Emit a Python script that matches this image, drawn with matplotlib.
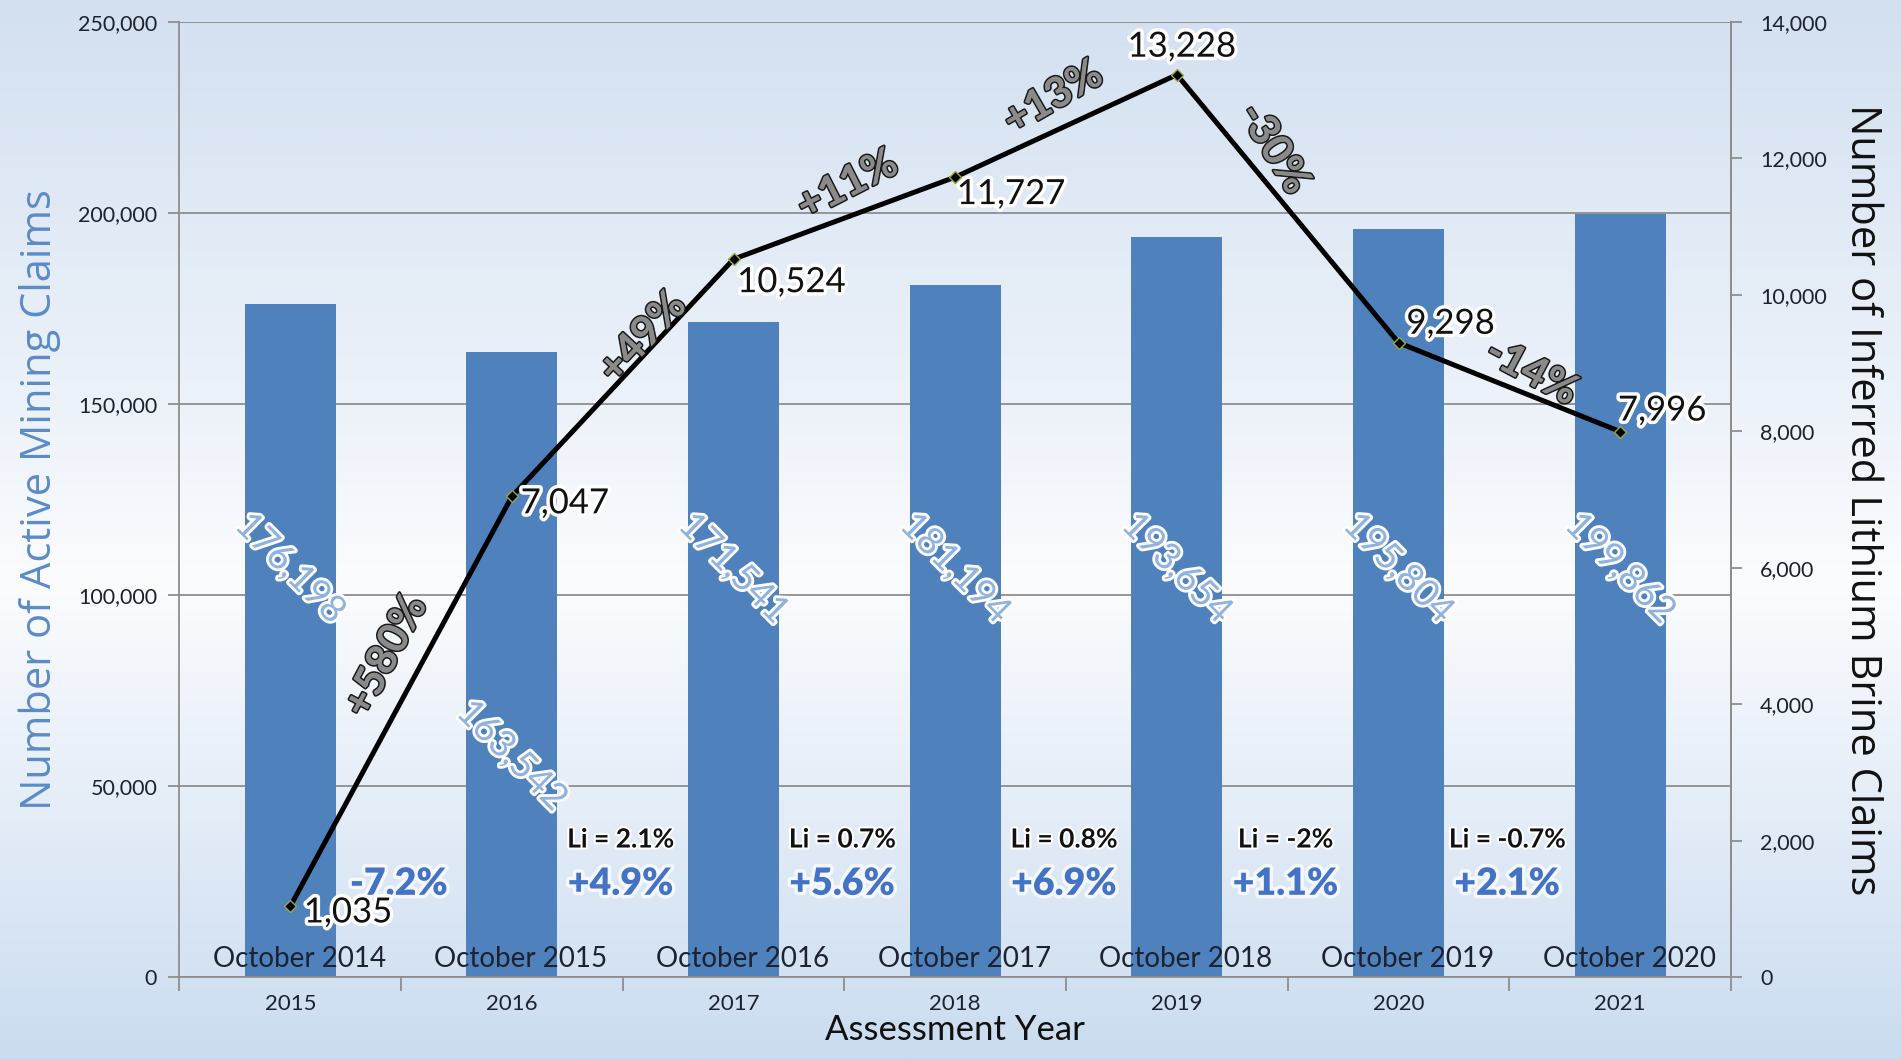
import numpy as np
import matplotlib
matplotlib.use("Agg")
import matplotlib.pyplot as plt
import matplotlib.patheffects as pe
from matplotlib.colors import LinearSegmentedColormap
from matplotlib.ticker import FuncFormatter, MultipleLocator, FixedLocator

plt.rcParams['font.family'] = ['Lato', 'DejaVu Sans']

# ---------------- data ----------------
years = ['2015', '2016', '2017', '2018', '2019', '2020', '2021']
snapshot = ['October 2014', 'October 2015', 'October 2016', 'October 2017',
            'October 2018', 'October 2019', 'October 2020']
active_claims = [176198, 163542, 171541, 181194, 193654, 195804, 199862]
lithium_claims = [1035, 7047, 10524, 11727, 13228, 9298, 7996]
lithium_change = ['+580%', '+49%', '+11%', '+13%', '-30%', '-14%']
claims_change = ['-7.2%', '+4.9%', '+5.6%', '+6.9%', '+1.1%', '+2.1%']
li_share_change = ['Li = 2.1%', 'Li = 0.7%', 'Li = 0.8%', 'Li = -2%', 'Li = -0.7%']

# ---------------- layout helpers ----------------
bar_label_y = [107000, 58000, 107000, 107000, 107000, 107000, 107000]
pt_offsets = [(58, -6), (53, -7), (58, -23), (56, -17), (5, 28), (52, 19), (42, 21)]
seg_offsets = [(-15, 45), (20, 40), (3, 33), (-13, 28), (-14, 60), (22, 15)]
seg_rot = [62, 47, 27, 30, -58, -28]

BAR = '#4f81bd'
GRID = '#8e8e8e'
TXT = '#1c2230'

fig = plt.figure(figsize=(19.01, 10.59), dpi=100)

# background gradient
bg = fig.add_axes([0, 0, 1, 1], zorder=-10)
cmap = LinearSegmentedColormap.from_list('bg', [(0.0, '#cbdcf0'), (0.45, '#fbfcfe'),
                                                (0.6, '#eef3fa'), (1.0, '#d3e0f0')])
grad = np.linspace(0, 1, 512).reshape(-1, 1)
bg.imshow(grad, aspect='auto', cmap=cmap, origin='lower', extent=[0, 1, 0, 1])
bg.axis('off')

ax = fig.add_axes([0.0944, 0.0774, 0.8162, 0.9018])
ax.patch.set_alpha(0)
x = np.arange(len(years))

ax.bar(x, active_claims, width=0.41, color=BAR, zorder=2)
ax.set_xlim(-0.5, len(years) - 0.5)
ax.set_ylim(0, 250000)
ax.yaxis.set_major_locator(MultipleLocator(50000))
ax.yaxis.set_major_formatter(FuncFormatter(lambda v, p: f'{int(v):,}'))
ax.grid(axis='y', color=GRID, linewidth=1.3, zorder=1)
ax.set_axisbelow(True)

ax.spines['top'].set_visible(False)
for s in ['left', 'right', 'bottom']:
    ax.spines[s].set_color(GRID)
    ax.spines[s].set_linewidth(1.3)

ax.set_xticks(x)
ax.set_xticklabels(years, fontsize=16, color=TXT)
ax.tick_params(axis='x', which='major', length=0, pad=12)
ax.xaxis.set_minor_locator(FixedLocator(np.arange(-0.5, len(years), 1.0)))
ax.tick_params(axis='x', which='minor', length=10, width=1.3, color=GRID, direction='out')
ax.tick_params(axis='y', length=8, width=1.3, color=GRID, labelsize=15.5, labelcolor=TXT, pad=8)

ax.set_ylabel('Number of Active Mining Claims', fontsize=30, color='#5a8bc8', labelpad=12,
              family=['Open Sans', 'DejaVu Sans'])
ax.set_xlabel('Assessment Year', fontsize=25, color='#111111', labelpad=0)

# bar value labels
for xi, v, yl in zip(x, active_claims, bar_label_y):
    ax.text(xi, yl, f'{v:,}', rotation=-45, ha='center', va='center', fontsize=27,
            color='#8fb2de', zorder=5,
            path_effects=[pe.withStroke(linewidth=4, foreground='white')])

# October labels
for xi, s in zip(x, snapshot):
    ax.text(xi + 0.04, 4600, s, ha='center', va='center', fontsize=20,
            color=TXT, zorder=6)

# blue change labels
for i, s in enumerate(claims_change):
    ax.text(i + 0.49, 24400, s, ha='center', va='center', fontsize=27, fontweight='heavy',
            color='#4472c4', zorder=6,
            path_effects=[pe.withStroke(linewidth=5, foreground='#f4f8fd')])
for i, s in enumerate(li_share_change):
    ax.text(i + 1.49, 36000, s, ha='center', va='center', fontsize=19, fontweight='bold',
            color='#111111', zorder=6,
            path_effects=[pe.withStroke(linewidth=3, foreground='white')])

# secondary axis line
ax2 = ax.twinx()
ax2.set_ylim(0, 14000)
ax2.yaxis.set_major_locator(MultipleLocator(2000))
ax2.yaxis.set_major_formatter(FuncFormatter(lambda v, p: f'{int(v):,}'))
ax2.tick_params(axis='y', length=8, width=1.3, color=GRID, labelsize=15.5, labelcolor=TXT, pad=13)
for s in ['top', 'left', 'bottom']:
    ax2.spines[s].set_visible(False)
ax2.spines['right'].set_color(GRID)
ax2.spines['right'].set_linewidth(1.3)
ax2.set_ylabel('Number of Inferred Lithium Brine Claims', fontsize=30, rotation=-90,
               labelpad=40, color='#111111', family=['Open Sans', 'DejaVu Sans'])

ax2.plot(x, lithium_claims, color='black', linewidth=3.6, zorder=4,
         marker='D', markersize=6, markerfacecolor='black', markeredgecolor='#9aa83a',
         markeredgewidth=1.0)

for xi, v, off in zip(x, lithium_claims, pt_offsets):
    ax2.annotate(f'{v:,}', (xi, v), xytext=off, textcoords='offset pixels',
                 ha='center', va='center', fontsize=25, color='#111111', zorder=7,
                 path_effects=[pe.withStroke(linewidth=5, foreground='white')])

for i, (s, off, r) in enumerate(zip(lithium_change, seg_offsets, seg_rot)):
    mx = (x[i] + x[i + 1]) / 2
    my = (lithium_claims[i] + lithium_claims[i + 1]) / 2
    ax2.annotate(s, (mx, my), xytext=off, textcoords='offset pixels', rotation=r,
                 rotation_mode='anchor', ha='center', va='center', fontsize=30,
                 fontweight='bold', color='#8a8a8a', zorder=7,
                 path_effects=[pe.withStroke(linewidth=2.4, foreground='#1a1a1a'),
                               pe.Normal()])

fig.savefig('out.png', dpi=100)
